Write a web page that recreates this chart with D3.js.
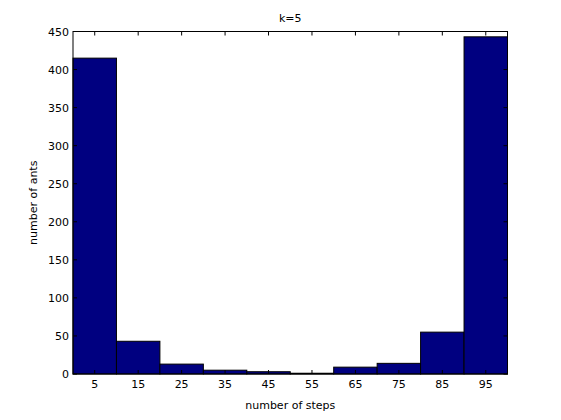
<!DOCTYPE html>
<html><head><meta charset="utf-8">
<script src="https://cdn.jsdelivr.net/npm/d3@7"></script>
<style>body{margin:0;background:#fff}svg{display:block}text{font-family:"DejaVu Sans",sans-serif;font-size:11px;fill:#000}</style>
</head><body>
<script>
const binCenters = [5,15,25,35,45,55,65,75,85,95];
const counts = [415,43,13,5,3,1,9,14,55,443];
const yTicks = [0,50,100,150,200,250,300,350,400,450];
const titleText = "k=5", xLabel = "number of steps", yLabel = "number of ants";

const W=561,H=420, L=73, R=507.5, T=31.5, B=374;
const svg=d3.select("body").append("svg").attr("width",W).attr("height",H);
const x=d3.scaleLinear().domain([0,100]).range([L,R]);
const y=d3.scaleLinear().domain([0,450]).range([B,T]);
const binW=10;

svg.append("g").selectAll("rect").data(binCenters).join("rect")
 .attr("x",d=>x(d-binW/2)).attr("width",d=>x(d+binW/2)-x(d-binW/2))
 .attr("y",(d,i)=>y(counts[i])).attr("height",(d,i)=>y(0)-y(counts[i]))
 .attr("fill","#000080").attr("stroke","#000").attr("stroke-width",1);

const tl=4;
const ax=svg.append("g").attr("stroke","#000").attr("stroke-width",1).attr("fill","none");
ax.append("rect").attr("x",L).attr("y",T).attr("width",R-L).attr("height",B-T);
binCenters.forEach(v=>{
  ax.append("line").attr("x1",x(v)).attr("x2",x(v)).attr("y1",B).attr("y2",B-tl);
  ax.append("line").attr("x1",x(v)).attr("x2",x(v)).attr("y1",T).attr("y2",T+tl);
});
yTicks.forEach(v=>{
  ax.append("line").attr("x1",L).attr("x2",L+tl).attr("y1",y(v)).attr("y2",y(v));
  ax.append("line").attr("x1",R).attr("x2",R-tl).attr("y1",y(v)).attr("y2",y(v));
});
svg.append("g").selectAll("text").data(binCenters).join("text")
 .attr("x",d=>x(d)).attr("y",B+13.5).attr("text-anchor","middle").text(d=>d);
svg.append("g").selectAll("text").data(yTicks).join("text")
 .attr("x",L-4).attr("y",d=>y(d)+4).attr("text-anchor","end").text(d=>d);
svg.append("text").attr("x",(L+R)/2).attr("y",22).attr("text-anchor","middle").text(titleText);
svg.append("text").attr("x",(L+R)/2).attr("y",409).attr("text-anchor","middle").text(xLabel);
svg.append("text").attr("transform",`translate(37,${(T+B)/2}) rotate(-90)`).attr("text-anchor","middle").text(yLabel);
</script>
</body></html>
